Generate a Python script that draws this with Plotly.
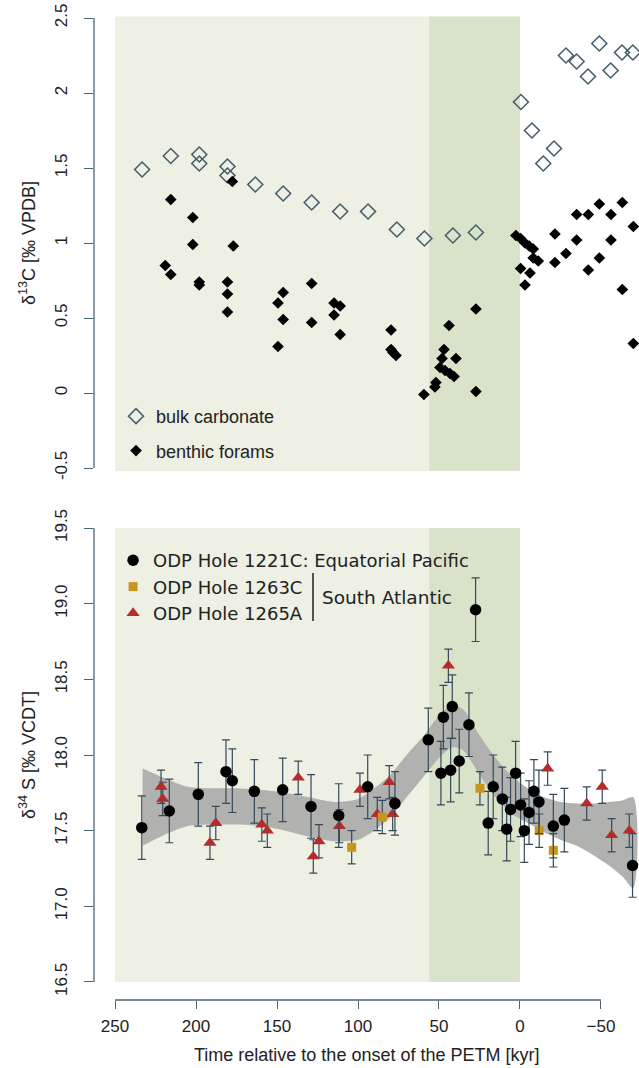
import plotly.graph_objects as go

# ---------------- data ----------------
# top panel: d13C
bulk_t = [233.3, 215.6, 198.0, 198.0, 180.6, 180.6, 163.4, 146.2, 128.6, 111.0, 93.8, 76.0, 59.0, 41.4, 27.2,
          -0.6, -7.4, -14.4, -21.0, -28.4, -35.0, -42.0, -49.0, -56.0, -63.0, -69.7]
bulk_v = [1.49, 1.58, 1.59, 1.53, 1.51, 1.45, 1.39, 1.33, 1.27, 1.21, 1.21, 1.09, 1.03, 1.05, 1.07,
          1.94, 1.75, 1.53, 1.63, 2.25, 2.21, 2.11, 2.33, 2.15, 2.27, 2.27]

benth_t = [219.0, 215.6, 215.6, 202.0, 202.0, 198.0, 198.0, 180.6, 180.6, 180.6, 177.6, 177.0,
           149.4, 146.2, 146.2, 149.4, 128.6, 128.6, 114.8, 111.0, 114.8, 111.0,
           79.6, 79.6, 78.4, 76.5, 59.3, 52.5, 51.9, 49.4, 46.9, 48.1, 46.3, 43.2, 40.7, 39.5, 43.8,
           27.2, 27.2,
           2.5, -0.4, -3.1, -5.7, -8.2, -8.2, -11.3, -0.4, -6.2, -3.1, -21.6, -21.6, -28.4,
           -35.0, -42.2, -35.0, -42.2, -49.0, -49.0, -56.2, -56.2, -63.2, -70.0, -63.2, -70.0]
benth_v = [0.85, 0.79, 1.29, 1.17, 0.99, 0.74, 0.72, 0.74, 0.66, 0.54, 1.41, 0.98,
           0.60, 0.67, 0.49, 0.31, 0.73, 0.47, 0.60, 0.58, 0.52, 0.39,
           0.42, 0.29, 0.27, 0.25, -0.01, 0.04, 0.07, 0.17, 0.29, 0.23, 0.15, 0.13, 0.11, 0.23, 0.45,
           0.56, 0.01,
           1.05, 1.03, 1.00, 0.98, 0.96, 0.90, 0.88, 0.83, 0.80, 0.72, 1.06, 0.87, 0.93,
           1.19, 1.19, 1.02, 0.82, 1.26, 0.90, 1.19, 1.02, 1.27, 1.11, 0.69, 0.33]

# bottom panel: d34S
c1221_t = [233.5, 216.5, 198.6, 181.5, 177.6, 164.0, 146.5, 129.0, 111.9, 94.0, 77.2,
           56.6, 47.3, 41.8, 31.5, 48.8, 42.8, 37.5, 27.4, 16.5, 10.9, 19.6, 8.2, 5.8, 2.7,
           -0.4, -2.7, -5.6, -8.6, -11.7, -20.6, -27.4, -69.5]
c1221_v = [17.52, 17.63, 17.74, 17.89, 17.83, 17.76, 17.77, 17.66, 17.60, 17.79, 17.68,
           18.10, 18.25, 18.32, 18.20, 17.88, 17.90, 17.96, 18.96, 17.79, 17.71, 17.55, 17.51, 17.64, 17.88,
           17.67, 17.50, 17.62, 17.76, 17.69, 17.53, 17.57, 17.27]
c1221_err = 0.21

s1263_t = [103.9, 85.0, 24.7, -11.9, -20.6]
s1263_v = [17.39, 17.59, 17.78, 17.50, 17.37]
s1263_err = 0.11

t1265_t = [221.6, 220.6, 191.4, 187.8, 159.4, 156.0, 136.9, 127.6, 124.1, 111.5, 98.8, 88.1, 80.7, 78.6,
           44.2, -17.1, -41.2, -50.8, -56.6, -67.5]
t1265_v = [17.79, 17.71, 17.42, 17.55, 17.54, 17.50, 17.85, 17.33, 17.43, 17.53, 17.77, 17.61, 17.82, 17.61,
           18.59, 17.91, 17.68, 17.79, 17.47, 17.50]
t1265_err = 0.11

band_t = [233, 220, 205, 190, 175, 160, 145, 130, 115, 100, 90, 80, 70, 60, 50, 42, 35, 25, 15, 5,
          -5, -15, -25, -35, -45, -55, -63, -70]
band_upper = [17.91, 17.85, 17.79, 17.78, 17.78, 17.77, 17.75, 17.72, 17.69, 17.71, 17.78, 17.87, 18.00, 18.12,
              18.26, 18.33, 18.30, 18.13, 17.98, 17.86, 17.78, 17.72, 17.69, 17.68, 17.68, 17.69, 17.70, 17.72]
band_lower = [17.40, 17.47, 17.53, 17.54, 17.54, 17.53, 17.50, 17.46, 17.43, 17.44, 17.50, 17.59, 17.72, 17.85,
              17.98, 18.05, 18.03, 17.87, 17.72, 17.61, 17.55, 17.49, 17.44, 17.40, 17.34, 17.27, 17.20, 17.12]

x_ticks = [250, 200, 150, 100, 50, 0, -50]
x_ticktext = ["250", "200", "150", "100", "50", "0", "\u221250"]
y1_ticks = [-0.5, 0, 0.5, 1, 1.5, 2, 2.5]
y1_ticktext = ["-0.5", "0", "0.5", "1", "1.5", "2", "2.5"]
y2_ticks = [16.5, 17.0, 17.5, 18.0, 18.5, 19.0, 19.5]
y2_ticktext = ["16.5", "17.0", "17.5", "18.0", "18.5", "19.0", "19.5"]

# intervals (kyr)
pre_start, pre_end = 250, 0
late_start = 56

# ---------------- style ----------------
AX = "#4d6473"
ERR = "#34495a"
TXT = "#222222"
LIGHT = "#edf0e3"
DARK = "#d9e3ca"
FONT = "Liberation Sans, Arial, sans-serif"
DJV = "DejaVu Sans, sans-serif"

fig = go.Figure()

# top panel
fig.add_trace(go.Scatter(x=bulk_t, y=bulk_v, mode="markers", xaxis="x", yaxis="y",
                         name="bulk carbonate", legend="legend", legendgroup="a",
                         marker=dict(symbol="diamond-open", size=11.5, color="#455f6c",
                                     line=dict(width=1.6, color="#455f6c"))))
fig.add_trace(go.Scatter(x=benth_t, y=benth_v, mode="markers", xaxis="x", yaxis="y",
                         name="benthic forams", legend="legend", legendgroup="b",
                         marker=dict(symbol="diamond", size=9, color="#000000")))

# bottom panel band
fig.add_trace(go.Scatter(x=band_t + band_t[::-1], y=band_upper + band_lower[::-1],
                         xaxis="x", yaxis="y2", mode="lines", fill="toself",
                         fillcolor="#b1b2af", line=dict(width=0, shape="spline", smoothing=0.8),
                         showlegend=False, hoverinfo="skip"))

fig.add_trace(go.Scatter(x=t1265_t, y=t1265_v, mode="markers", xaxis="x", yaxis="y2",
                         name="ODP Hole 1265A", legend="legend2", legendrank=3,
                         error_y=dict(type="constant", value=t1265_err, color=ERR, thickness=1.2, width=4),
                         marker=dict(symbol="triangle-up", size=11.5, color="#b22d2b")))
fig.add_trace(go.Scatter(x=s1263_t, y=s1263_v, mode="markers", xaxis="x", yaxis="y2",
                         name="ODP Hole 1263C", legend="legend2", legendrank=2,
                         error_y=dict(type="constant", value=s1263_err, color=ERR, thickness=1.2, width=4),
                         marker=dict(symbol="square", size=9, color="#c8951f")))
fig.add_trace(go.Scatter(x=c1221_t, y=c1221_v, mode="markers", xaxis="x", yaxis="y2",
                         name="ODP Hole 1221C: Equatorial Pacific", legend="legend2", legendrank=1,
                         error_y=dict(type="constant", value=c1221_err, color=ERR, thickness=1.2, width=4),
                         marker=dict(symbol="circle", size=11.5, color="#000000")))

shapes = []
for yref, y0, y1 in [("y", -0.52, 2.51), ("y2", 16.5, 19.5)]:
    shapes.append(dict(type="rect", xref="x", yref=yref, x0=pre_start, x1=pre_end, y0=y0, y1=y1,
                       fillcolor=LIGHT, line=dict(width=0), layer="below"))
    shapes.append(dict(type="rect", xref="x", yref=yref, x0=late_start, x1=pre_end, y0=y0, y1=y1,
                       fillcolor=DARK, line=dict(width=0), layer="below"))
# R-style axis lines
shapes.append(dict(type="line", xref="x domain", yref="y", x0=0, x1=0, y0=-0.5, y1=2.5,
                   line=dict(color=AX, width=1.3)))
shapes.append(dict(type="line", xref="x domain", yref="y2", x0=0, x1=0, y0=16.5, y1=19.5,
                   line=dict(color=AX, width=1.3)))
shapes.append(dict(type="line", xref="x", yref="y2 domain", x0=250, x1=-50, y0=0, y1=0,
                   line=dict(color=AX, width=1.3)))
# South Atlantic bracket
shapes.append(dict(type="line", xref="paper", yref="paper", x0=0.4018, x1=0.4018, y0=0.379, y1=0.427,
                   line=dict(color="#222222", width=1.5)))

annotations = [
    dict(text="South Atlantic", xref="paper", yref="paper", x=0.4147, y=0.403, xanchor="left",
         yanchor="middle", showarrow=False, font=dict(family=DJV, size=18.5, color=TXT)),
    dict(text="Time relative to the onset of the PETM [kyr]", xref="paper", yref="paper", x=0.5, y=-0.055,
         xanchor="center", yanchor="middle", showarrow=False, font=dict(family=FONT, size=18, color=TXT)),
    dict(text="δ<sup>13</sup>C [‰ VPDB]", xref="paper", yref="paper", x=-0.1229, y=0.757,
         xanchor="center", yanchor="middle", textangle=-90, showarrow=False,
         font=dict(family=FONT, size=18, color=TXT)),
    dict(text="δ<sup>34</sup> S [‰ VCDT]", xref="paper", yref="paper", x=-0.1229, y=0.245,
         xanchor="center", yanchor="middle", textangle=-90, showarrow=False,
         font=dict(family=FONT, size=18, color=TXT)),
]

fig.update_layout(
    width=639, height=1068,
    margin=dict(l=94, r=0, t=0, b=68),
    paper_bgcolor="white", plot_bgcolor="white",
    shapes=shapes, annotations=annotations,
    xaxis=dict(range=[263, -73.5], domain=[0, 1], anchor="y2", showgrid=False, zeroline=False,
               showline=False, ticks="outside", ticklen=8, tickwidth=1.3, tickcolor=AX,
               tickvals=x_ticks, ticktext=x_ticktext, ticklabelstandoff=3,
               tickfont=dict(family=FONT, size=17, color=TXT)),
    yaxis=dict(range=[-0.62, 2.62], domain=[0.514, 1], anchor="x", showgrid=False, zeroline=False,
               showline=False, ticks="outside", ticklen=9, tickwidth=1.3, tickcolor=AX,
               tickvals=y1_ticks, ticktext=y1_ticktext, tickangle=-90, ticklabelstandoff=10,
               tickfont=dict(family=FONT, size=17, color=TXT)),
    yaxis2=dict(range=[16.381, 19.619], domain=[0, 0.49], anchor="x", showgrid=False, zeroline=False,
                showline=False, ticks="outside", ticklen=9, tickwidth=1.3, tickcolor=AX,
                tickvals=y2_ticks, ticktext=y2_ticktext, tickangle=-90, ticklabelstandoff=10,
                tickfont=dict(family=FONT, size=17, color=TXT)),
    legend=dict(x=0.0404, y=0.602, xanchor="left", yanchor="top", bgcolor="rgba(0,0,0,0)",
                tracegroupgap=8, font=dict(family=FONT, size=18, color=TXT)),
    legend2=dict(x=0.035, y=0.458, xanchor="left", yanchor="top", bgcolor="rgba(0,0,0,0)",
                 traceorder="normal", font=dict(family=DJV, size=18, color=TXT)),
)

fig.write_html("out.html")
